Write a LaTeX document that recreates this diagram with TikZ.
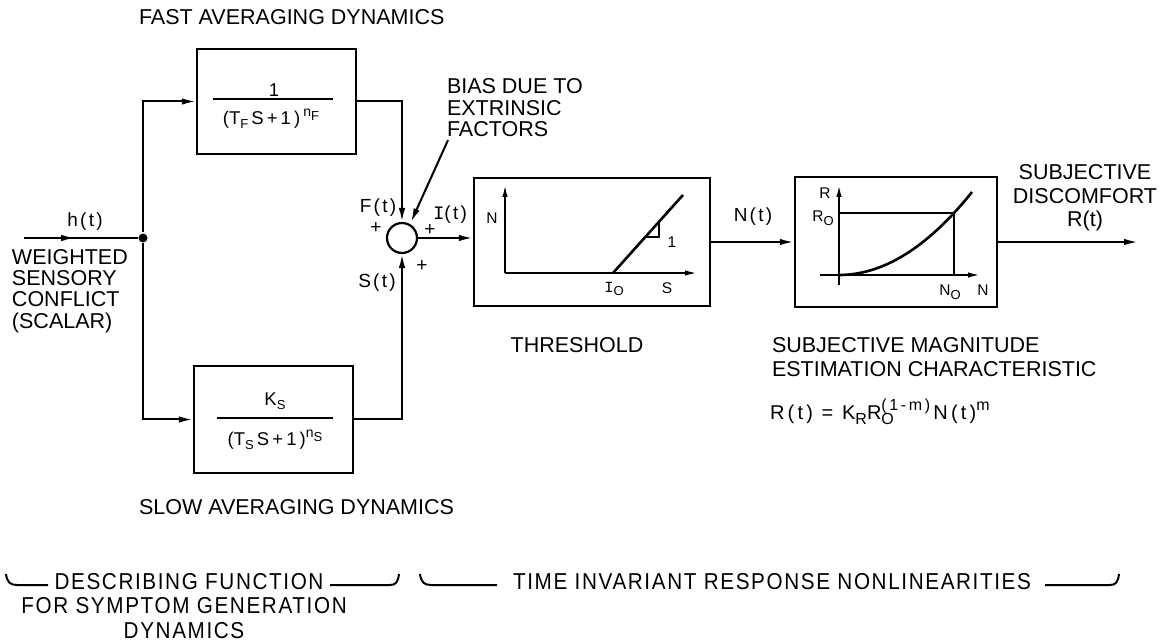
\documentclass[tikz,border=0pt]{standalone}
\usepackage{fontspec}
\setmainfont{Liberation Sans}
\newfontfamily\spacedfont[LetterSpace=12]{Liberation Sans}
\newfontfamily\formfont[LetterSpace=16]{Liberation Sans}
\newfontfamily\bottomfont[FakeStretch=0.9,LetterSpace=7]{Liberation Sans}
\newfontfamily\serifI{Liberation Mono}
\usetikzlibrary{arrows.meta,calc,decorations.markings}
\newcommand\mysub[1]{\raisebox{-0.45ex}{\fontsize{13}{13}\selectfont #1}}
\newcommand\mysup[1]{\raisebox{0.75ex}{\fontsize{14}{14}\selectfont #1}}
\newcommand\bigsub[1]{\raisebox{-0.5ex}{\fontsize{16}{16}\selectfont #1}}
\newcommand\bigsup[1]{\raisebox{0.85ex}{\fontsize{16}{16}\selectfont #1}}
\begin{document}
\begin{tikzpicture}[x=1pt,y=-1pt,line width=2pt,
  >={Latex[length=14pt,width=6.5pt]},
  txt/.style={inner sep=0pt,font=\fontsize{21.5}{21.5}\selectfont},
  sig/.style={inner sep=0pt,font=\spacedfont\fontsize{19}{19}\selectfont},
  plus/.style={inner sep=0pt,font=\fontsize{19}{19}\selectfont},
  frac/.style={inner sep=0pt,font=\fontsize{18.5}{18.5}\selectfont},
  axl/.style={inner sep=0pt,font=\fontsize{15.5}{15.5}\selectfont},
  blk/.style={draw,line width=2.4pt,inner sep=0pt},
  ax/.style={line width=1.8pt,-{Latex[length=12pt,width=5.5pt]}},
  bot/.style={inner sep=0pt,font=\bottomfont\fontsize{23}{25}\selectfont,align=center},
  brk/.style={line width=2pt},
  midarrow/.style={decoration={markings,mark=at position 0.45 with {\arrow{>}}},postaction={decorate}}]
\useasboundingbox (0,0) rectangle (1163,644);

% blocks
\node[blk,minimum width=159pt,minimum height=105pt] (fast) at (276.5,101.5) {};
\node[blk,minimum width=159pt,minimum height=107pt] (slow) at (273.5,419.5) {};
\node[draw,circle,line width=2.2pt,minimum size=30pt,inner sep=0pt] (sum) at (402,238) {};
\node[blk,minimum width=236pt,minimum height=128pt] (thr) at (592,242) {};
\node[blk,minimum width=202pt,minimum height=130pt] (mag) at (896,242) {};
\node[circle,fill,inner sep=0pt,minimum size=9pt] (split) at (143,238) {};
\coordinate (hin) at (24,238);
\coordinate (out) at (1138,242);

% connectors
\draw[midarrow] (hin) -- (split);
\draw[->] (split) |- (fast.west);
\draw[->] (split) |- (slow.west);
\draw[->] (fast.east) -| (sum.north);
\draw[->] (slow.east) -| (sum.south);
\draw[->] (sum.east) -- (sum.east -| thr.west);
\draw[->] (thr.east) -- (mag.west);
\draw[->] (mag.east) -- (out);

% bias
\node[txt,anchor=west,align=left,font=\fontsize{21.5}{21.5}\selectfont] (bias) at (446,108) {BIAS DUE TO\\EXTRINSIC\\FACTORS};
\draw[->,shorten >=2pt] ($(bias.south west)+(2,2)$) -- (sum.60);

% fast block content
\node[frac] (fnum) at (274,90) {1};
\draw (213,99) -- (333,99);
\node[frac] (fden) at (271,119) {(T\mysub{F}\,S\,+\,1\,)\,\mysup{n\mysub{F}}};

% slow block content
\node[frac] (snum) at (275,401) {K\mysub{S}};
\draw (217,418) -- (333,418);
\node[frac] (sden) at (275,440) {(T\mysub{S}\,S\,+\,1\,)\mysup{n\mysub{S}}};

% threshold content
\draw[ax] (505,273) -- (505,185);
\draw[ax] (505,273) -- (697,273);
\draw[line width=2.6pt] (613,273) -- (683,195);
\draw[line width=1.8pt] (645,237) -- (659,237) -- (659,222);
\node[axl] (thN) at (492,218) {N};
\node[axl] (thI) at (614,289) {{\serifI I}\mysub{O}};
\node[axl] (thS) at (667,288) {S};
\node[axl] (th1) at (672,242) {1};

% magnitude content
\draw[ax] (839,285) -- (839,185);
\draw[ax] (820,275) -- (980,275);
\draw[line width=1.8pt] (839,213) -- (954,213) -- (954,275);
\draw[line width=2.6pt] (839,275) .. controls (883.3,275) and (927.7,247.4) .. (972,192);
\node[axl] (mR) at (825,193) {R};
\node[axl] (mR0) at (823,218) {R\mysub{O}};
\node[axl] (mN0) at (950,292) {N\mysub{O}};
\node[axl] (mN) at (983,290) {N};

% signal labels
\node[sig] (lh) at (85,222) {h(t)};
\node[sig] (lF) at (378,208) {F(t)};
\node[sig] (lI) at (450,215) {{\serifI I}(t)};
\node[sig] (lS) at (377,283) {S(t)};
\node[sig] (lN) at (753,217) {N(t)};
\node[plus] (p1) at (376,228) {+};
\node[plus] (p2) at (430,230) {+};
\node[plus] (p3) at (422,266) {+};

% titles
\node[txt,anchor=west] (tfast) at (138,17) {FAST AVERAGING DYNAMICS};
\node[txt,anchor=west] (tslow) at (138,507) {SLOW AVERAGING DYNAMICS};
\node[txt,anchor=west,align=left,font=\fontsize{21.5}{21.3}\selectfont] (tin) at (11,291) {WEIGHTED\\SENSORY\\CONFLICT\\(SCALAR)};
\node[txt,align=center,font=\fontsize{21.5}{23.5}\selectfont] (tout) at (1085,198) {SUBJECTIVE\\DISCOMFORT\\R(t)};
\node[txt] (tthr) at (577,345) {THRESHOLD};
\node[txt,anchor=west,align=left,font=\fontsize{21.5}{24}\selectfont] (tmag) at (771,357) {SUBJECTIVE MAGNITUDE\\ESTIMATION CHARACTERISTIC};
\node[inner sep=0pt,anchor=west,font=\formfont\fontsize{20}{20}\selectfont] (form) at (769,412)
  {R(t) = K\bigsub{R}R\rlap{\bigsub{O}}\bigsup{(1\,-\,m)}\,N(t)\bigsup{m}};

% bottom
\node[bot] (d1) at (189,582) {DESCRIBING FUNCTION};
\node[bot] (d2) at (184,618) {FOR SYMPTOM GENERATION\\DYNAMICS};
\node[bot] (tinv) at (772,582) {TIME INVARIANT RESPONSE NONLINEARITIES};
\draw[brk] (6,574) .. controls (7,582) and (10,585) .. (17,585) -- (48,585);
\draw[brk] (330,585) -- (390,585) .. controls (396,585) and (398,582) .. (399,574);
\draw[brk] (420,574) .. controls (421,582) and (424,585) .. (431,585) -- (497,585);
\draw[brk] (1045,585) -- (1110,585) .. controls (1116,585) and (1118,582) .. (1119,574);
\end{tikzpicture}
\end{document}
